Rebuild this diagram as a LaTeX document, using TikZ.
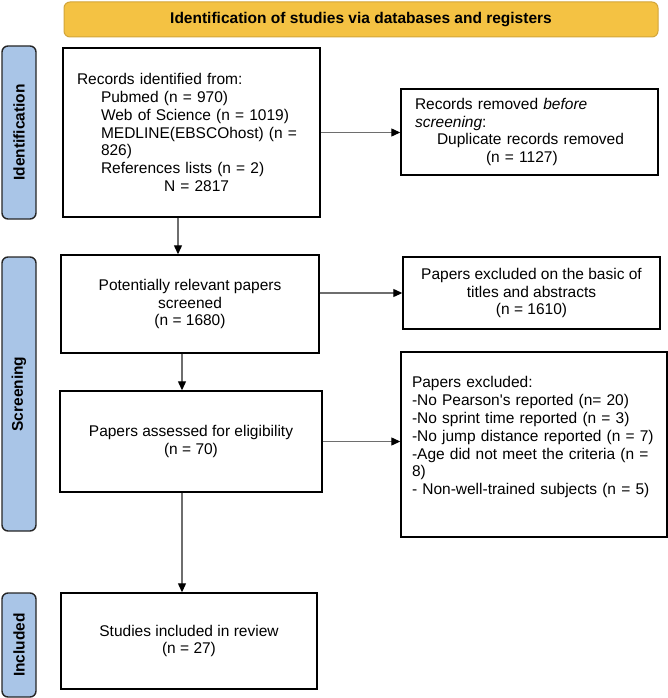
\documentclass[tikz,border=0pt]{standalone}
\usepackage{fontspec}
\setmainfont{Liberation Sans}
\usetikzlibrary{arrows.meta}
\definecolor{bannerfill}{HTML}{F4C243}
\definecolor{bannerdraw}{HTML}{D2A53A}
\definecolor{barfill}{HTML}{A9C5E7}
\definecolor{flowgray}{HTML}{6E6E6E}
\tikzset{box/.style={draw=black, line width=1.4pt, fill=white, inner sep=0pt, align=center,
  font=\fontsize{15.5}{17.8}\selectfont},
  lbox/.style={box, align=left, inner xsep=14pt},
  bar/.style={draw=black!85, line width=1.4pt, fill=barfill, rounded corners=6pt, rotate=90,
  font=\bfseries\fontsize{15.5}{17.8}\selectfont},
  flow/.style={draw=flowgray, line width=1.2pt, ->}}

\begin{document}
\begin{tikzpicture}[x=1pt, y=-1pt, >={Triangle[width=8pt,length=9pt,color=black]}]
      \useasboundingbox (0,0) rectangle (668,698);

      \node (banner) at (361,19.5) [draw=bannerdraw, fill=bannerfill, line width=1pt, rounded corners=6pt,
        minimum width=594pt, minimum height=35pt, font=\bfseries\fontsize{15.5}{17.8}\selectfont]
        {Identification of studies via databases and registers};

      \node (idbar) at (19,132.5) [bar, minimum width=173pt, minimum height=34pt] {Identification};
      \node (scbar) at (19,394) [bar, minimum width=274pt, minimum height=34pt] {Screening};
      \node (inbar) at (19,645) [bar, minimum width=104pt, minimum height=34pt] {Included};

      \node (rec) at (191.5,132.5) [lbox, text width=229pt, minimum height=169pt] {Records identified from:\\
        \hspace*{24pt}Pubmed (n = 970)\\
        \hspace*{24pt}Web of Science (n = 1019)\\
        \hspace*{24pt}MEDLINE(EBSCOhost) (n =\\
        \hspace*{24pt}826)\\
        \hspace*{24pt}References lists (n = 2)\\
        \hspace*{87pt}N = 2817};
      \node (rem) at (529.5,132) [lbox, text width=229pt, minimum height=86pt] {Records removed \textit{before}\\
        \textit{screening}:\\
        \hspace*{22pt}Duplicate records removed\\
        \hspace*{71pt}(n = 1127)};

      \node (scr) at (190,304) [box, minimum width=258pt, minimum height=98pt] {Potentially relevant papers\\ screened\\ (n = 1680)};
      \node (exa) at (531.5,293) [box, minimum width=257pt, minimum height=72pt] {Papers excluded on the basic of\\ titles and abstracts\\ (n = 1610)};

      \node (elig) at (191,441.5) [box, minimum width=262pt, minimum height=101pt] {Papers assessed for eligibility\\ (n = 70)};
      \node (exb) at (534,444.5) [lbox, inner xsep=11pt, text width=244pt, minimum height=185pt] {Papers excluded:\\
        -No Pearson\textquotesingle s reported (n= 20)\\
        -No sprint time reported (n = 3)\\
        -No jump distance reported (n = 7)\\
        -Age did not meet the criteria (n =\\
        8)\\
        - Non-well-trained subjects (n = 5)\\
        \mbox{}};

      \node (incl) at (189,641) [box, minimum width=256pt, minimum height=96pt] {Studies included in review\\ (n = 27)};

      \draw [flow] (rec.east) -- (rec.east -| rem.west);
      \draw [flow] ([xshift=-13.5pt]rec.south) -- ([xshift=-13.5pt]rec.south |- scr.north);
      \draw [flow] (scr.east |- exa.west) -- (exa.west);
      \draw [flow] ([xshift=-8pt]scr.south) -- ([xshift=-8pt]scr.south |- elig.north);
      \draw [flow] (elig.east) -- (elig.east -| exb.west);
      \draw [flow] ([xshift=-9pt]elig.south) -- ([xshift=-9pt]elig.south |- incl.north);
    \end{tikzpicture}
\end{document}
